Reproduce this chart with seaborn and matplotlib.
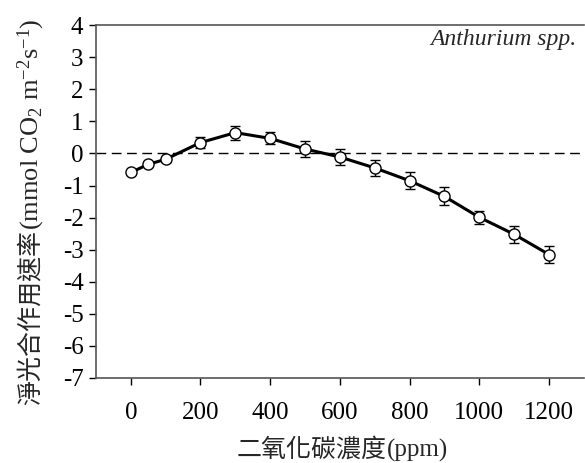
import numpy as np
import pandas as pd
import matplotlib
matplotlib.use('Agg')
import matplotlib.pyplot as plt
import seaborn as sns

# CO2 concentration (ppm) vs net photosynthetic rate
co2_ppm = [0, 50, 100, 200, 300, 400, 500, 600, 700, 800, 900, 1000, 1100, 1200]
net_rate = [-0.59, -0.34, -0.18, 0.34, 0.65, 0.47, 0.14, -0.11, -0.45, -0.85, -1.34, -1.99, -2.52, -3.15]
rate_err = [0.05, 0.05, 0.08, 0.18, 0.22, 0.19, 0.26, 0.26, 0.25, 0.26, 0.28, 0.21, 0.27, 0.26]

x_ticks = [0, 200, 400, 600, 800, 1000, 1200]
y_ticks = [-7, -6, -5, -4, -3, -2, -1, 0, 1, 2, 3, 4]

xlabel_parts = [('二氧化碳濃度', 18, 'Noto Sans CJK TC'), ('(ppm)', 18, 'Liberation Serif')]
ylabel_parts = [('淨光合作用速率', 18, 'Noto Sans CJK TC'),
                (r'(mmol CO$_2$ m$^{-2}$s$^{-1}$)', 19, 'Liberation Serif')]

df = pd.DataFrame({'co2': co2_ppm, 'rate': net_rate, 'err': rate_err})

sns.set_style('ticks')
plt.rcParams['font.family'] = ['Liberation Serif', 'Noto Sans CJK TC', 'DejaVu Serif']
plt.rcParams['axes.unicode_minus'] = False
plt.rcParams['mathtext.fontset'] = 'custom'
plt.rcParams['mathtext.rm'] = 'Liberation Serif'
plt.rcParams['mathtext.default'] = 'regular'

W, H = 585, 463
fig = plt.figure(figsize=(W / 100, H / 100), dpi=100)
ax = fig.add_axes([0.164, 0.1836, 0.834, 0.762])

ax.axhline(0, color='black', lw=1, ls=(0, (7, 4)), zorder=1)
ax.errorbar(df['co2'], df['rate'], yerr=df['err'], fmt='none',
            ecolor='black', elinewidth=1, capsize=3.5, capthick=1, zorder=2)
sns.lineplot(data=df, x='co2', y='rate', ax=ax, color='black', lw=2.2,
             marker='o', markersize=8, markerfacecolor='white',
             markeredgecolor='black', markeredgewidth=1, zorder=3)

ax.set_xlim(-100, 1300)
ax.set_ylim(-7, 4)
ax.set_xticks(x_ticks)
ax.set_yticks(y_ticks)
ax.set_xlabel('')
ax.set_ylabel('')
ax.tick_params(labelsize=18, direction='out', length=5, width=1, colors='black')
ax.tick_params(axis='x', pad=12)
ax.tick_params(axis='y', pad=4)
for s in ax.spines.values():
    s.set_color('#555555')
    s.set_linewidth(1.2)
ax.spines['right'].set_visible(False)

ax.text(0.985, 0.99, 'Anthurium spp.', transform=ax.transAxes, ha='right', va='top',
        fontsize=17, style='italic', family='Liberation Serif')

# axis labels built from pieces so Chinese and Latin parts can use their own fonts
renderer = fig.canvas.get_renderer()


def label_run(parts, center_px, base_px, vertical):
    texts, lengths = [], []
    for s, size, fam in parts:
        t = fig.text(0, 0, s, fontsize=size, family=fam, ha='left', va='baseline',
                     rotation=90 if vertical else 0, rotation_mode='anchor',
                     fontweight='light')
        bb = t.get_window_extent(renderer)
        texts.append(t)
        lengths.append(bb.height if vertical else bb.width)
    pos = center_px - sum(lengths) / 2
    for t, n in zip(texts, lengths):
        if vertical:
            t.set_position((base_px / W, pos / H))
        else:
            t.set_position((pos / W, base_px / H))
        pos += n


label_run(xlabel_parts, 342, H - 457, vertical=False)
label_run(ylabel_parts, H - 212, 38, vertical=True)

fig.savefig('out.png', dpi=100)
